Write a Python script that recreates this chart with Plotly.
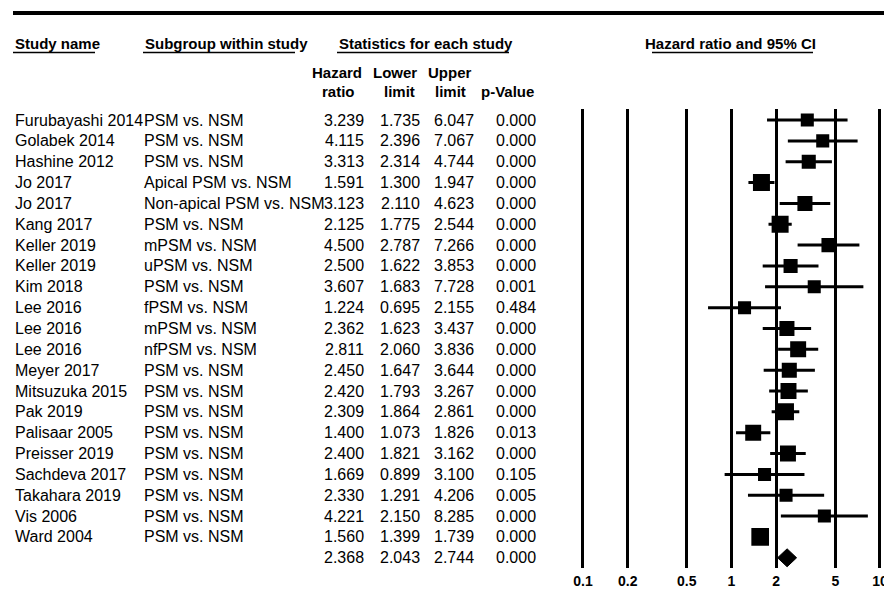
import math
import plotly.graph_objects as go

W, H = 884, 589

study_names = ["Furubayashi 2014", "Golabek 2014", "Hashine 2012", "Jo 2017", "Jo 2017",
               "Kang 2017", "Keller 2019", "Keller 2019", "Kim 2018", "Lee 2016", "Lee 2016",
               "Lee 2016", "Meyer 2017", "Mitsuzuka 2015", "Pak 2019", "Palisaar 2005",
               "Preisser 2019", "Sachdeva 2017", "Takahara 2019", "Vis 2006", "Ward 2004"]
subgroups = ["PSM vs. NSM", "PSM vs. NSM", "PSM vs. NSM", "Apical PSM vs. NSM",
             "Non-apical PSM vs. NSM", "PSM vs. NSM", "mPSM vs. NSM", "uPSM vs. NSM",
             "PSM vs. NSM", "fPSM vs. NSM", "mPSM vs. NSM", "nfPSM vs. NSM", "PSM vs. NSM",
             "PSM vs. NSM", "PSM vs. NSM", "PSM vs. NSM", "PSM vs. NSM", "PSM vs. NSM",
             "PSM vs. NSM", "PSM vs. NSM", "PSM vs. NSM"]
hazard_ratio = [3.239, 4.115, 3.313, 1.591, 3.123, 2.125, 4.500, 2.500, 3.607, 1.224, 2.362,
                2.811, 2.450, 2.420, 2.309, 1.400, 2.400, 1.669, 2.330, 4.221, 1.560]
lower_limit = [1.735, 2.396, 2.314, 1.300, 2.110, 1.775, 2.787, 1.622, 1.683, 0.695, 1.623,
               2.060, 1.647, 1.793, 1.864, 1.073, 1.821, 0.899, 1.291, 2.150, 1.399]
upper_limit = [6.047, 7.067, 4.744, 1.947, 4.623, 2.544, 7.266, 3.853, 7.728, 2.155, 3.437,
               3.836, 3.644, 3.267, 2.861, 1.826, 3.162, 3.100, 4.206, 8.285, 1.739]
p_value = [0.000, 0.000, 0.000, 0.000, 0.000, 0.000, 0.000, 0.000, 0.001, 0.484, 0.000,
           0.000, 0.000, 0.000, 0.000, 0.013, 0.000, 0.105, 0.005, 0.000, 0.000]
# estimated relative weights (%), shown by square area
study_weight = [3.0, 3.0, 3.5, 5.1, 4.0, 5.1, 3.5, 3.5, 3.0, 3.0, 4.0,
                4.5, 4.0, 4.5, 5.1, 4.5, 4.5, 3.0, 3.0, 3.0, 5.5]

summary_hr = 2.368
summary_lower = 2.043
summary_upper = 2.744
summary_p = 0.000

tick_values = [0.1, 0.2, 0.5, 1, 2, 5, 10]
tick_labels = ["0.1", "0.2", "0.5", "1", "2", "5", "10"]

FONT = "Arial, Liberation Sans, sans-serif"
n = len(study_names)
summary_row = n

def px(xp):
    return xp / W

def py(yp):
    return 1 - yp / H

# x axis pixel mapping: 0.1 -> 583, 10 -> 880
x0p, x1p = 583.0, 880.0
ppd = (x1p - x0p) / 2.0
lo_v, hi_v = 0.094, 10.6
dom_l = x0p + (math.log10(lo_v) + 1) * ppd
dom_r = x0p + (math.log10(hi_v) + 1) * ppd

fig = go.Figure()

# CI lines
cx, cy = [], []
for i in range(n):
    cx += [lower_limit[i], upper_limit[i], None]
    cy += [i, i, None]
fig.add_trace(go.Scatter(x=cx, y=cy, mode="lines", line=dict(color="black", width=3),
                         hoverinfo="skip", showlegend=False))

# squares
sizes = [17 * math.sqrt(w / 5.1) for w in study_weight]
fig.add_trace(go.Scatter(x=hazard_ratio, y=list(range(n)), mode="markers",
                         marker=dict(symbol="square", size=sizes, color="black", opacity=1,
                                     line=dict(width=0)),
                         showlegend=False))

# summary diamond
hh = 0.43
fig.add_trace(go.Scatter(
    x=[summary_lower, summary_hr, summary_upper, summary_hr, summary_lower],
    y=[summary_row, summary_row - hh, summary_row, summary_row + hh, summary_row],
    mode="lines", fill="toself", fillcolor="black", line=dict(color="black", width=1),
    showlegend=False))

ann = []
def txt(x, y, s, anchor="left", bold=False, size=16, yref="y"):
    ann.append(dict(x=x, y=y, xref="paper", yref=yref, text=("<b>%s</b>" % s) if bold else s,
                    showarrow=False, xanchor=anchor, yanchor="middle",
                    font=dict(family=FONT, size=size, color="black")))

for i in range(n):
    txt(px(13), i, study_names[i])
    txt(px(142), i, subgroups[i])
    txt(px(366), i, "%.3f" % hazard_ratio[i], "right")
    txt(px(422), i, "%.3f" % lower_limit[i], "right")
    txt(px(476), i, "%.3f" % upper_limit[i], "right")
    txt(px(538), i, "%.3f" % p_value[i], "right")
txt(px(366), summary_row, "%.3f" % summary_hr, "right")
txt(px(422), summary_row, "%.3f" % summary_lower, "right")
txt(px(476), summary_row, "%.3f" % summary_upper, "right")
txt(px(538), summary_row, "%.3f" % summary_p, "right")

# headers
txt(px(13), py(43), "Study name", bold=True, size=15, yref="paper")
txt(px(143), py(43), "Subgroup within study", bold=True, size=15, yref="paper")
txt(px(337), py(43), "Statistics for each study", bold=True, size=15, yref="paper")
txt(px(643), py(43), "Hazard ratio and 95% CI", bold=True, size=15, yref="paper")
txt(px(337), py(72), "Hazard", "center", bold=True, size=15, yref="paper")
txt(px(338), py(91), "ratio", "center", bold=True, size=15, yref="paper")
txt(px(395), py(72), "Lower", "center", bold=True, size=15, yref="paper")
txt(px(399), py(91), "limit", "center", bold=True, size=15, yref="paper")
txt(px(450), py(72), "Upper", "center", bold=True, size=15, yref="paper")
txt(px(451), py(91), "limit", "center", bold=True, size=15, yref="paper")
txt(px(508), py(91), "p-Value", "center", bold=True, size=15, yref="paper")

shapes = [
    dict(type="line", xref="paper", yref="paper", x0=px(13), x1=px(884), y0=py(13), y1=py(13),
         line=dict(color="black", width=4)),
]
for a, b in [(13, 95), (143, 295), (337, 509), (652, 813)]:
    shapes.append(dict(type="line", xref="paper", yref="paper", x0=px(a), x1=px(b),
                       y0=py(52.5), y1=py(52.5), line=dict(color="black", width=1.5)))

top_row = -0.53
bot_row = 21.49

fig.update_layout(
    width=W, height=H, margin=dict(l=0, r=0, t=0, b=0),
    paper_bgcolor="white", plot_bgcolor="white",
    annotations=ann, shapes=shapes, showlegend=False,
    xaxis=dict(type="log", range=[math.log10(lo_v), math.log10(hi_v)],
               domain=[dom_l / W, dom_r / W], tickvals=tick_values, ticktext=tick_labels,
               showgrid=True, gridcolor="black", gridwidth=3, zeroline=False, showline=False,
               ticks="", automargin=False, ticklabeloverflow="allow", ticklabelstandoff=3,
               tickfont=dict(family=FONT, size=14, color="black", weight="bold"),
               fixedrange=True),
    yaxis=dict(range=[bot_row, top_row], domain=[py(568), py(109)], showgrid=False,
               zeroline=False, showline=False, showticklabels=False, automargin=False,
               fixedrange=True),
)

fig.write_html("out.html", config={"displayModeBar": False},
               post_script="document.body.style.margin='0';document.body.style.overflow='hidden';")
